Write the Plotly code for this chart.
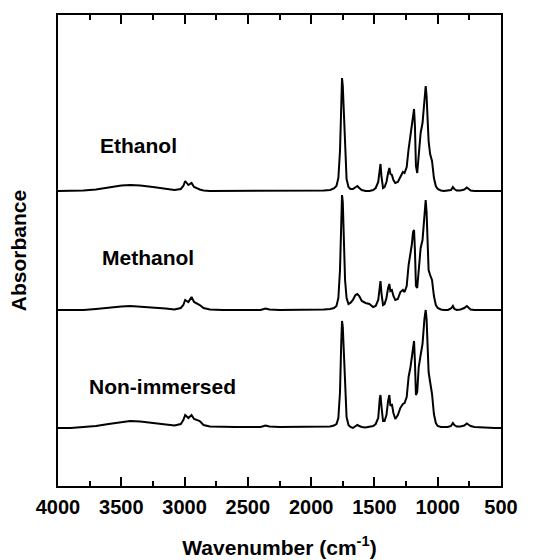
import plotly.graph_objects as go

wavenumber = [4000, 3900, 3800, 3700, 3600, 3500, 3430, 3350, 3250, 3150, 3080, 3030, 3010, 2995, 2970,
              2945, 2925, 2880, 2850, 2800, 2700, 2600, 2500, 2400, 2360, 2330, 2250, 2100, 2000, 1900,
              1850, 1820, 1800, 1785, 1772, 1762, 1756, 1750, 1742, 1732, 1720, 1705, 1690, 1670, 1650,
              1635, 1620, 1600, 1570, 1540, 1510, 1490, 1470, 1458, 1452, 1444, 1432, 1420, 1405, 1392,
              1382, 1374, 1362, 1350, 1335, 1315, 1295, 1275, 1262, 1245, 1230, 1215, 1205, 1195, 1187,
              1180, 1172, 1162, 1150, 1135, 1120, 1105, 1095, 1088, 1080, 1072, 1060, 1045, 1030, 1015,
              1000, 975, 950, 920, 895, 880, 868, 850, 820, 790, 770, 755, 740, 710, 650, 600, 550, 500]

ethanol = [0, 0, 0.5, 1.5, 3.5, 5.5, 6, 5.5, 4, 2, 1, 2, 5, 10, 6,
           8, 4, 1.5, 0.5, 0, 0, 0, 0, 0, 0.5, 0, 0, 0, 0, 0.5,
           1, 2.5, 5, 13, 40, 90, 113, 105, 75, 35, 12, 4, 2, 2, 4,
           5, 3, 1, 0, 0, 1, 3, 9, 24, 27, 14, 3, 4, 9, 18,
           23, 17, 16, 11, 8, 9, 14, 19, 18, 24, 42, 55, 62, 75, 82,
           65, 25, 18, 35, 58, 68, 92, 105, 95, 70, 50, 37, 30, 13, 5,
           2, 0.5, 0, 0.5, 1, 4, 2, 0.5, 0.5, 1.5, 3.5, 2, 0.5, 0, 0, 0, 0, 0]

methanol = [0, 0, 0, 1, 2.5, 3.5, 4, 3.5, 2.5, 1.5, 0.5, 2, 5, 10, 8,
            13, 8, 5, 2, 0.5, 0, 0, 0, 0, 1.5, 0.5, 0, 0, 0, 0.5,
            1, 2, 4, 12, 40, 95, 115, 108, 70, 30, 12, 6, 7, 10, 15,
            16, 14, 9, 7, 6, 3, 4, 10, 26, 29, 16, 5, 6, 12, 22,
            26, 19, 20, 14, 10, 11, 18, 20, 18, 24, 45, 57, 65, 78, 80,
            60, 24, 22, 42, 62, 70, 100, 110, 98, 70, 40, 35, 30, 14, 5,
            2, 0.5, 0, 0, 1.5, 4, 1, 0, 0.5, 2, 4, 2, 0.5, 0, 0, 0, 0, 0]

non_immersed = [-1, -1, 0, 1, 3, 5, 6, 5.5, 4, 2.5, 1.5, 3, 7, 12, 9,
                12, 8, 6, 2, 0.5, 0, 0, 0, 0, 1.5, 0.5, 0, 0, 0, 0,
                0.5, 1.5, 3, 9, 35, 85, 106, 100, 72, 32, 10, 2, 0, -1, 1,
                2, 1, 0, -0.5, 0, 1, 3, 9, 28, 32, 20, 6, 6, 12, 26,
                32, 21, 23, 14, 8, 12, 19, 23, 24, 30, 50, 60, 70, 80, 86,
                65, 32, 35, 60, 72, 83, 108, 117, 108, 80, 55, 45, 33, 13, 4,
                1, 0, 0, 0, 1, 4, 2, 0.5, 0.5, 1.5, 3.5, 2, 1, 0, -0.5, -1, -1, -1]

series_names = ["Ethanol", "Methanol", "Non-immersed"]
offsets = [2.95, 1.76, 0.59]
label_x = [3684, 3668, 3771]
label_y = [3.41, 2.29, 1.00]
x_ticks = [4000, 3500, 3000, 2500, 2000, 1500, 1000, 500]

FONT = "Liberation Sans, Arial, sans-serif"

fig = go.Figure()
for name, vals, off in zip(series_names, [ethanol, methanol, non_immersed], offsets):
    fig.add_trace(go.Scatter(
        x=wavenumber, y=[v / 100 + off for v in vals], mode="lines", name=name,
        line=dict(color="black", width=2), showlegend=False))

# invisible trace to carry the top axis
fig.add_trace(go.Scatter(x=[4000, 500], y=[None, None], xaxis="x2", yaxis="y",
                         mode="lines", showlegend=False, hoverinfo="skip"))

for name, lx, ly in zip(series_names, label_x, label_y):
    fig.add_annotation(x=lx, y=ly, xref="x", yref="y", text=name, showarrow=False,
                       xanchor="left", yanchor="middle",
                       font=dict(family=FONT, size=21, color="black", weight="bold"))

tick_style = dict(ticks="inside", ticklen=9, tickwidth=2, tickcolor="black",
                  minor=dict(dtick=250, tick0=500, ticks="inside", ticklen=5, tickwidth=2,
                             tickcolor="black", showgrid=False))

fig.update_layout(
    width=555, height=560,
    margin=dict(l=58, r=54, t=15, b=74),
    paper_bgcolor="white", plot_bgcolor="white",
    font=dict(family=FONT, color="black"),
    xaxis=dict(
        range=[4000, 500], tickvals=x_ticks, ticktext=[str(t) for t in x_ticks],
        showline=True, linewidth=2, linecolor="black", mirror=True,
        showgrid=False, zeroline=False, ticklabelstandoff=2, automargin=False,
        tickfont=dict(family=FONT, size=20, color="black", weight="bold"),
        title=dict(text="Wavenumber (cm<sup>-1</sup>)", standoff=23,
                   font=dict(family=FONT, size=21, color="black", weight="bold")),
        **tick_style),
    xaxis2=dict(
        range=[4000, 500], overlaying="x", side="top", tickvals=x_ticks,
        showticklabels=False, showline=False, showgrid=False, zeroline=False,
        automargin=False, **tick_style),
    yaxis=dict(
        range=[0, 4.71], showticklabels=False, ticks="",
        showline=True, linewidth=2, linecolor="black", mirror=True,
        showgrid=False, zeroline=False, automargin=False,
        title=dict(text="Absorbance", standoff=24,
                   font=dict(family=FONT, size=21, color="black", weight="bold"))),
)

fig.write_html("out.html")
